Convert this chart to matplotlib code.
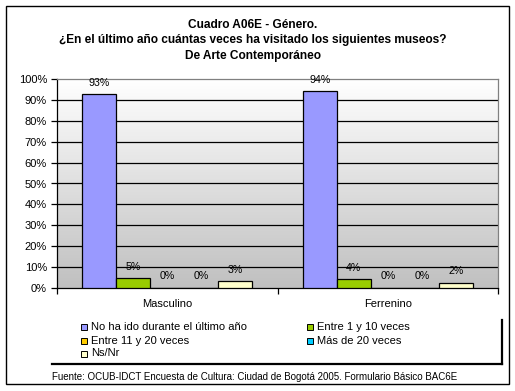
import matplotlib
matplotlib.use("Agg")
import matplotlib.pyplot as plt
import numpy as np
from matplotlib.patches import Rectangle
from matplotlib.lines import Line2D
from matplotlib.colors import LinearSegmentedColormap

categories = ["Masculino", "Ferrenino"]
series_names = ["No ha ido durante el último año", "Entre 1 y 10 veces",
                "Entre 11 y 20 veces", "Más de 20 veces", "Ns/Nr"]
values = {
    "No ha ido durante el último año": [0.928, 0.944],
    "Entre 1 y 10 veces": [0.046, 0.040],
    "Entre 11 y 20 veces": [0.0, 0.0],
    "Más de 20 veces": [0.0, 0.0],
    "Ns/Nr": [0.031, 0.024],
}
colors = ["#9999FF", "#99CC00", "#FFCC00", "#00CCFF", "#FFFFCC"]
ytick_labels = ["0%", "10%", "20%", "30%", "40%", "50%", "60%", "70%", "80%", "90%", "100%"]

FONT = "Liberation Sans"
W, H = 515, 391
fig = plt.figure(figsize=(W / 100, H / 100), dpi=100)
fig.patch.set_facecolor("white")

def fx(px):
    return px / W

def fy(py):
    return 1 - py / H

# outer frame
fig.add_artist(Rectangle((fx(5.5), fy(384)), fx(509) - fx(5.5), fy(5.5) - fy(384),
                         transform=fig.transFigure, fill=False, edgecolor="black", lw=1))

left, right, top, bottom = 56.7, 498.3, 79.3, 287.7
ax = fig.add_axes([fx(left), fy(bottom), fx(right) - fx(left), fy(top) - fy(bottom)])

# gradient background
grad = np.linspace(1.0, 0.0, 256).reshape(-1, 1)
cmap = LinearSegmentedColormap.from_list("g", ["#C0C0C0", "#FFFFFF"])
ax.imshow(grad, aspect="auto", cmap=cmap, extent=[-0.5, 1.5, 0, 1], origin="upper",
          zorder=0, vmin=0, vmax=1)

n = len(series_names)
w = 1 / (n + 1.5)
x = np.arange(len(categories))
for i, name in enumerate(series_names):
    vals = values[name]
    xs = x + (i - (n - 1) / 2) * w
    ax.bar(xs, vals, width=w, color=colors[i], edgecolor="black", linewidth=0.9, zorder=3)
    for xi, v in zip(xs, vals):
        ax.text(xi, v + 0.055, f"{round(v * 100):.0f}%", ha="center", va="center",
                fontsize=7.7, family=FONT, zorder=4)

ax.set_xlim(-0.5, 1.5)
ax.set_ylim(0, 1)
ax.set_yticks(np.linspace(0, 1, 11))
ax.set_yticklabels(ytick_labels, family=FONT, fontsize=8)
for yv in np.linspace(0.1, 0.9, 9):
    ax.axhline(yv, color="black", lw=0.9, zorder=1)
ax.set_xticks([-0.5, 0.5, 1.5])
ax.set_xticklabels([])
ax.tick_params(axis="x", direction="out", length=4, width=0.9)
ax.tick_params(axis="y", direction="out", length=4, width=0.9, pad=3)
for xi, c in zip(x, categories):
    ax.text(xi, -0.08, c, ha="center", va="center", fontsize=8, family=FONT,
            transform=ax.transData, clip_on=False)
ax.spines["left"].set_color("black")
ax.spines["bottom"].set_color("black")
ax.spines["top"].set_color("#808080")
ax.spines["right"].set_color("#808080")
for s in ax.spines.values():
    s.set_linewidth(0.9)

# title
titles = ["Cuadro A06E - Género.",
          "¿En el último año cuántas veces ha visitado los siguientes museos?",
          "De Arte Contemporáneo"]
for t, yy in zip(titles, [25, 40.5, 56.5]):
    fig.text(fx(253), fy(yy), t, ha="center", va="center", fontsize=8.6,
             fontweight="bold", family=FONT)

# legend (manual, Excel style row-wise)
pos = [(81, 327.3), (306.7, 327.3), (81, 340.5), (306.7, 340.5), (81, 353.5)]
for i, name in enumerate(series_names):
    px, py = pos[i]
    fig.add_artist(Rectangle((fx(px), fy(py + 3)), fx(6) - fx(0), fy(0) - fy(6),
                             transform=fig.transFigure, facecolor=colors[i],
                             edgecolor="black", lw=0.7))
    fig.text(fx(px + 10), fy(py), name, ha="left", va="center", fontsize=8, family=FONT)
# legend shadow
fig.add_artist(Line2D([fx(502), fx(502)], [fy(320), fy(363.5)], transform=fig.transFigure,
                      color="black", lw=1.6))
fig.add_artist(Line2D([fx(52), fx(502)], [fy(363.5), fy(363.5)], transform=fig.transFigure,
                      color="black", lw=1.6))

fig.text(fx(52), fy(377), "Fuente: OCUB-IDCT Encuesta de Cultura: Ciudad de Bogotá 2005. Formulario Básico BAC6E",
         ha="left", va="center", fontsize=7.0, family=FONT)

fig.savefig("out.png", dpi=100)
